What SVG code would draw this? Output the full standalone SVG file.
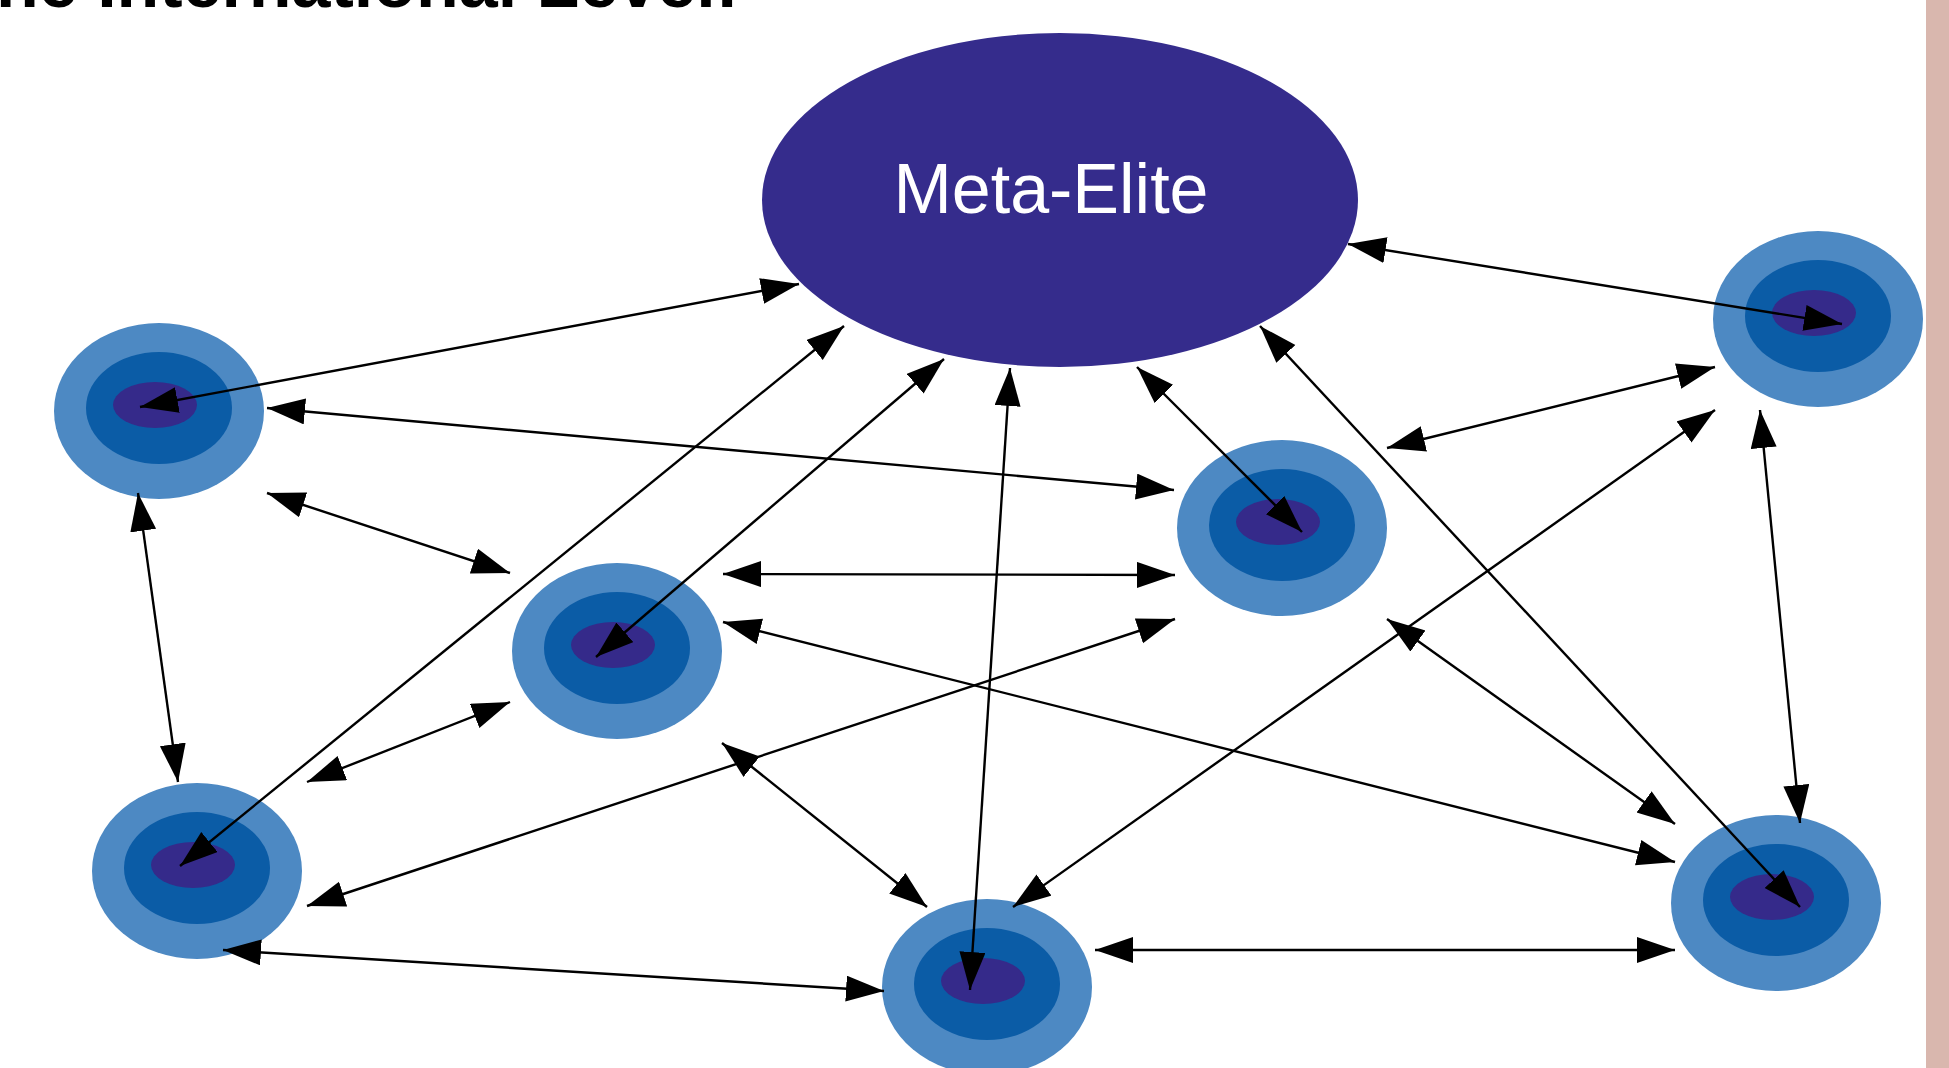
<svg xmlns="http://www.w3.org/2000/svg" width="1949" height="1068" viewBox="0 0 1949 1068">
<style>
.o{fill:#4D89C3}
.m{fill:#0B5CA6}
.i{fill:#352A8A}
.c line{stroke:#000;stroke-width:2.4;marker-start:url(#ah);marker-end:url(#ah)}
.t{font-family:"Liberation Sans",Arial,sans-serif}
</style>
<defs>
<marker id="ah" markerUnits="userSpaceOnUse" markerWidth="40" markerHeight="28" refX="38" refY="13" orient="auto-start-reverse" viewBox="0 0 40 28">
<path d="M0,0 L38,13 L0,26 z" fill="#000"/>
</marker>
</defs>
<rect x="0" y="0" width="1949" height="1068" fill="#fff"/>
<rect x="1926" y="0" width="23" height="1068" fill="#D9B7AE"/>
<text class="t" x="-4" y="7" font-size="70" font-weight="bold" fill="#000">he International Level:</text>
<g id="meta-elite">
<ellipse cx="1060" cy="200" rx="298" ry="167" fill="#352C8C"/>
<text class="t" x="1051" y="213" font-size="70" fill="#fff" text-anchor="middle">Meta-Elite</text>
</g>
<g id="nodeA"><ellipse class="o" cx="159" cy="411" rx="105" ry="88"/><ellipse class="m" cx="159" cy="408" rx="73" ry="56"/><ellipse class="i" cx="155" cy="405" rx="42" ry="23"/></g>
<g id="nodeB"><ellipse class="o" cx="1818" cy="319" rx="105" ry="88"/><ellipse class="m" cx="1818" cy="316" rx="73" ry="56"/><ellipse class="i" cx="1814" cy="313" rx="42" ry="23"/></g>
<g id="nodeC"><ellipse class="o" cx="1282" cy="528" rx="105" ry="88"/><ellipse class="m" cx="1282" cy="525" rx="73" ry="56"/><ellipse class="i" cx="1278" cy="522" rx="42" ry="23"/></g>
<g id="nodeD"><ellipse class="o" cx="617" cy="651" rx="105" ry="88"/><ellipse class="m" cx="617" cy="648" rx="73" ry="56"/><ellipse class="i" cx="613" cy="645" rx="42" ry="23"/></g>
<g id="nodeE"><ellipse class="o" cx="197" cy="871" rx="105" ry="88"/><ellipse class="m" cx="197" cy="868" rx="73" ry="56"/><ellipse class="i" cx="193" cy="865" rx="42" ry="23"/></g>
<g id="nodeF"><ellipse class="o" cx="1776" cy="903" rx="105" ry="88"/><ellipse class="m" cx="1776" cy="900" rx="73" ry="56"/><ellipse class="i" cx="1772" cy="897" rx="42" ry="23"/></g>
<g id="nodeG"><ellipse class="o" cx="987" cy="987" rx="105" ry="88"/><ellipse class="m" cx="987" cy="984" rx="73" ry="56"/><ellipse class="i" cx="983" cy="981" rx="42" ry="23"/></g>
<g id="connectors" class="c">
<line x1="140" y1="407" x2="799" y2="284"/>
<line x1="267" y1="408" x2="1174" y2="490"/>
<line x1="267" y1="493" x2="510" y2="573"/>
<line x1="138" y1="493" x2="178" y2="782"/>
<line x1="180" y1="866" x2="844" y2="326"/>
<line x1="596" y1="657" x2="944" y2="359"/>
<line x1="970" y1="990" x2="1010" y2="368"/>
<line x1="1302" y1="532" x2="1137" y2="367"/>
<line x1="1800" y1="907" x2="1260" y2="326"/>
<line x1="1842" y1="324" x2="1348" y2="244"/>
<line x1="1387" y1="448" x2="1715" y2="367"/>
<line x1="1013" y1="907" x2="1715" y2="410"/>
<line x1="1760" y1="410" x2="1800" y2="823"/>
<line x1="723" y1="574" x2="1175" y2="575"/>
<line x1="723" y1="622" x2="1675" y2="862"/>
<line x1="307" y1="906" x2="1175" y2="619"/>
<line x1="307" y1="782" x2="510" y2="702"/>
<line x1="722" y1="743" x2="927" y2="907"/>
<line x1="1387" y1="619" x2="1675" y2="824"/>
<line x1="223" y1="950" x2="884" y2="991"/>
<line x1="1095" y1="950" x2="1675" y2="950"/>
</g>
</svg>
